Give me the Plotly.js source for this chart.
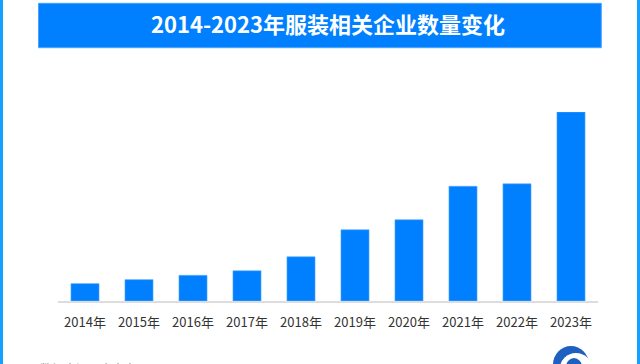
<!DOCTYPE html>
<html>
<head>
<meta charset="utf-8">
<script src="https://cdn.plot.ly/plotly-3.0.1.min.js"></script>
<style>
html,body{margin:0;padding:0;background:#fff;overflow:hidden;}
#chart{width:640px;height:364px;}
</style>
</head>
<body>
<div id="chart"></div>
<script>
// Data (relative values)
const years = ["2014年","2015年","2016年","2017年","2018年","2019年","2020年","2021年","2022年","2023年"];
const counts = [9.2, 11.3, 13.6, 16.0, 23.4, 37.7, 43.0, 60.7, 62.0, 100];
const titleText = "2014-2023年服装相关企业数量变化";
const sourceText = "数据来源：企查查";

// pixel -> paper helpers (plot area: x 58..598, y 112..301)
const L = 58, R = 598, T = 112, B = 301;
const px = x => (x - L) / (R - L);
const py = y => (B - y) / (B - T);

const trace = {
  type: "bar",
  x: years,
  y: counts,
  marker: {color: "#0080ff", line: {color: "#5aaaff", width: 0.6}},
  hoverinfo: "x+y"
};

const layout = {
  width: 640, height: 364,
  margin: {l: L, r: 640 - R, t: T, b: 364 - B, pad: 0},
  paper_bgcolor: "#ffffff",
  plot_bgcolor: "#ffffff",
  bargap: 0.48,
  showlegend: false,
  font: {family: "'Noto Sans CJK SC', 'Noto Sans', sans-serif", color: "#333333", size: 13},
  title: {
    text: "<b>" + titleText + "</b>",
    x: 0.5, xanchor: "center", xref: "paper",
    y: 1 - 25 / 364, yanchor: "middle", yref: "container",
    font: {family: "'Noto Sans CJK SC', sans-serif", size: 22, color: "#ffffff"}
  },
  xaxis: {
    type: "category",
    showline: true, linecolor: "#dddddd", linewidth: 1.5,
    showgrid: false, zeroline: false,
    ticks: "", ticklen: 0,
    ticklabelstandoff: 9,
    tickfont: {size: 13, color: "#333333"},
    fixedrange: true
  },
  yaxis: {
    range: [0, 100],
    visible: false,
    showgrid: false, zeroline: false,
    fixedrange: true
  },
  shapes: [
    // title banner
    {type: "rect", xref: "paper", yref: "paper", layer: "below",
     x0: px(38.5), x1: px(601.3), y0: py(47.7), y1: py(3.3),
     fillcolor: "#0080ff", line: {color: "#4aa3ff", width: 1}},
    // left / right borders
    {type: "rect", xref: "paper", yref: "paper", layer: "above",
     x0: px(0), x1: px(3), y0: py(364), y1: py(0),
     fillcolor: "#14a0ff", line: {width: 0}},
    {type: "rect", xref: "paper", yref: "paper", layer: "above",
     x0: px(637), x1: px(640), y0: py(364), y1: py(0),
     fillcolor: "#14a0ff", line: {width: 0}},
    // logo (partially visible)
    {type: "circle", xref: "paper", yref: "paper", layer: "above",
     x0: px(553), x1: px(589), y0: py(383), y1: py(346),
     fillcolor: "#1f5fbf", line: {width: 0}},
    {type: "circle", xref: "paper", yref: "paper", layer: "above",
     x0: px(560), x1: px(592), y0: py(384), y1: py(353),
     fillcolor: "#ffffff", line: {width: 0}},
    {type: "circle", xref: "paper", yref: "paper", layer: "above",
     x0: px(566), x1: px(582), y0: py(376), y1: py(358),
     fillcolor: "#1f5fbf", line: {width: 0}}
  ],
  annotations: [
    {text: sourceText, xref: "paper", yref: "paper",
     x: px(38), y: py(358), xanchor: "left", yanchor: "top",
     showarrow: false, font: {size: 12, color: "#888888"}}
  ]
};

Plotly.newPlot("chart", [trace], layout, {displayModeBar: false, staticPlot: true});
</script>
</body>
</html>
